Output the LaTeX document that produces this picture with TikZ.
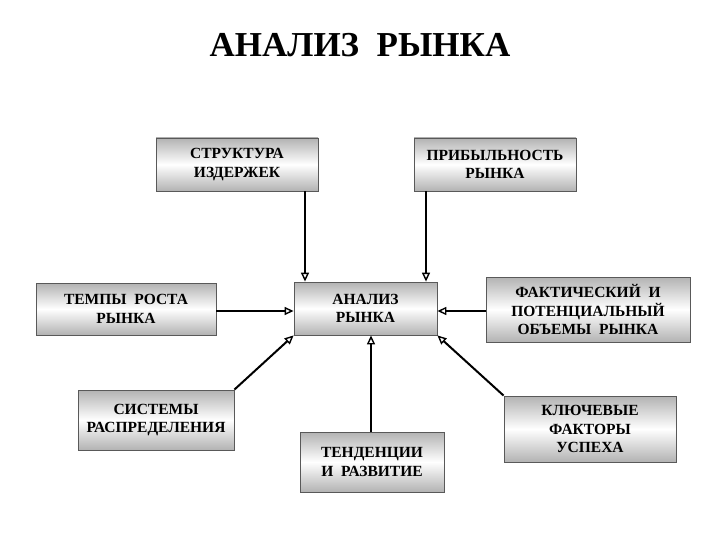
\documentclass[tikz,border=0pt]{standalone}
\usepackage{fontspec}
\setmainfont{Liberation Serif}[BoldFont={Liberation Serif Bold}]
\usetikzlibrary{arrows.meta}
\begin{document}
\begin{tikzpicture}[x=1pt,y=-1pt,
  box/.style={draw=gray!70!black, line width=0.8pt, top color=gray!60, bottom color=gray!60, middle color=white,
    font=\rmfamily\bfseries\fontsize{15.5}{18.5}\selectfont, align=center, inner sep=0pt},
  con/.style={line width=2pt, -{Triangle[open, length=9pt, width=8pt, line width=1.4pt]}}]
\useasboundingbox (0,0) rectangle (720,540);
\node[font=\rmfamily\bfseries\fontsize{35}{40}\selectfont] (title) at (360,45) {АНАЛИЗ\ \ РЫНКА};
\node[box, minimum width=162, minimum height=53] (str) at (237,164.5) {СТРУКТУРА\\ИЗДЕРЖЕК};
\node[box, minimum width=162, minimum height=53] (prib) at (495,164.5) {ПРИБЫЛЬНОСТЬ\\РЫНКА};
\node[box, minimum width=180, minimum height=52] (temp) at (126,309) {ТЕМПЫ\ \ РОСТА\\РЫНКА};
\node[box, minimum width=143, minimum height=53] (an) at (365.5,308.5) {АНАЛИЗ\\РЫНКА};
\node[box, minimum width=204, minimum height=65] (fakt) at (588,309.5) {ФАКТИЧЕСКИЙ\ \ И\\ПОТЕНЦИАЛЬНЫЙ\\ОБЪЕМЫ\ \ РЫНКА};
\node[box, minimum width=156, minimum height=60] (sist) at (156,420) {СИСТЕМЫ\\РАСПРЕДЕЛЕНИЯ};
\node[box, minimum width=144, minimum height=60] (tend) at (372,462) {ТЕНДЕНЦИИ\\И\ \ РАЗВИТИЕ};
\node[box, minimum width=172, minimum height=66] (kl) at (590,429) {КЛЮЧЕВЫЕ\\ФАКТОРЫ\\УСПЕХА};
\draw[con] (str.south -| 305,0) -- (an.north -| 305,0);
\draw[con] (prib.south -| 426,0) -- (an.north -| 426,0);
\draw[con] (temp.east |- 0,311) -- (an.west |- 0,311);
\draw[con] (fakt.west |- 0,311) -- (an.east |- 0,311);
\draw[con] (sist.north east) -- (an.south west);
\draw[con] (tend.north -| 371,0) -- (an.south -| 371,0);
\draw[con] (kl.north west) -- (an.south east);
\end{tikzpicture}
\end{document}
